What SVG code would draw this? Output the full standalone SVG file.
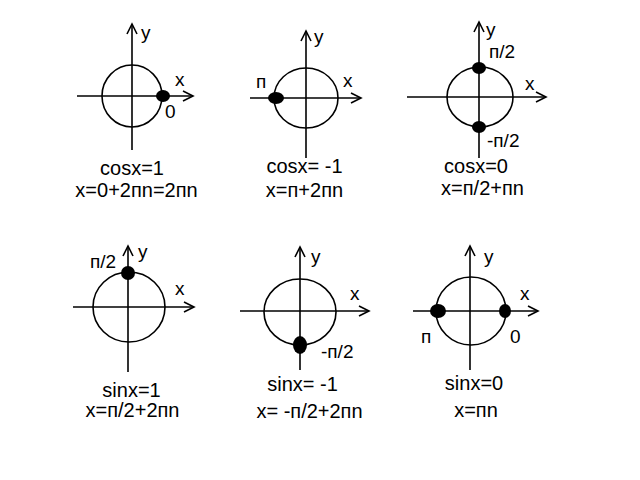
<svg xmlns="http://www.w3.org/2000/svg" width="640" height="480" viewBox="0 0 640 480">
<style>
.ax{stroke:#000;stroke-width:1.6;fill:none}
.c{stroke:#000;stroke-width:1.6;fill:none}
.d{fill:#000}
text{font-family:"Liberation Sans",Arial,sans-serif;font-size:19px;fill:#000}
.m{text-anchor:middle;font-size:20px}
</style>
<defs>
<marker id="ar" markerUnits="userSpaceOnUse" markerWidth="14" markerHeight="14" refX="11" refY="6" orient="auto" viewBox="0 0 14 12">
<path d="M1,1 L11,6 L1,11" fill="none" stroke="#000" stroke-width="1.6"/>
</marker>
</defs>
<rect width="640" height="480" fill="#fff"/>
<g id="p1">
<line class="ax" x1="132" y1="150" x2="132" y2="24" marker-end="url(#ar)"/>
<line class="ax" x1="77" y1="96" x2="193" y2="96" marker-end="url(#ar)"/>
<ellipse class="c" cx="132" cy="96" rx="30" ry="31"/>
<ellipse class="d" cx="163" cy="96" rx="7" ry="6"/>
<text x="141" y="39">y</text>
<text x="175" y="86">x</text>
<text x="165" y="118">0</text>
<text class="m" x="132" y="175">cosx=1</text>
<text class="m" x="136.5" y="197">x=0+2пn=2пn</text>
</g>
<g id="p2">
<line class="ax" x1="306" y1="158" x2="306" y2="31" marker-end="url(#ar)"/>
<line class="ax" x1="250" y1="98" x2="361" y2="98" marker-end="url(#ar)"/>
<ellipse class="c" cx="306" cy="98" rx="32" ry="30"/>
<ellipse class="d" cx="276" cy="98" rx="8" ry="6"/>
<text x="314" y="43">y</text>
<text x="343" y="87">x</text>
<text x="256" y="88">п</text>
<text class="m" x="304.5" y="173">cosx= -1</text>
<text class="m" x="304.5" y="197">x=п+2пn</text>
</g>
<g id="p3">
<line class="ax" x1="479" y1="158" x2="479" y2="22" marker-end="url(#ar)"/>
<line class="ax" x1="407" y1="97" x2="546" y2="97" marker-end="url(#ar)"/>
<ellipse class="c" cx="480" cy="97" rx="33" ry="30"/>
<ellipse class="d" cx="479" cy="68" rx="7" ry="6"/>
<ellipse class="d" cx="479" cy="127" rx="7" ry="6"/>
<text x="486" y="36">y</text>
<text x="489" y="58">п/2</text>
<text x="525" y="90">x</text>
<text x="487" y="147">-п/2</text>
<text class="m" x="476" y="173">cosx=0</text>
<text class="m" x="482.5" y="195">x=п/2+пn</text>
</g>
<g id="p4">
<line class="ax" x1="128" y1="372" x2="128" y2="246" marker-end="url(#ar)"/>
<line class="ax" x1="73" y1="307" x2="194" y2="307" marker-end="url(#ar)"/>
<ellipse class="c" cx="129" cy="307" rx="36" ry="35"/>
<ellipse class="d" cx="128" cy="273" rx="7" ry="7"/>
<text x="138" y="258">y</text>
<text x="90" y="268">п/2</text>
<text x="175" y="295">x</text>
<text class="m" x="131.5" y="397">sinx=1</text>
<text class="m" x="132.5" y="417">x=п/2+2пn</text>
</g>
<g id="p5">
<line class="ax" x1="300" y1="370" x2="300" y2="247" marker-end="url(#ar)"/>
<line class="ax" x1="240" y1="311" x2="369" y2="311" marker-end="url(#ar)"/>
<ellipse class="c" cx="300" cy="312" rx="36" ry="33"/>
<ellipse class="d" cx="300" cy="345" rx="7" ry="9"/>
<text x="311" y="263">y</text>
<text x="350" y="300">x</text>
<text x="321" y="358">-п/2</text>
<text class="m" x="302.5" y="391">sinx= -1</text>
<text class="m" x="309.5" y="418">x= -п/2+2пn</text>
</g>
<g id="p6">
<line class="ax" x1="470" y1="370" x2="470" y2="246" marker-end="url(#ar)"/>
<line class="ax" x1="413" y1="311" x2="538" y2="311" marker-end="url(#ar)"/>
<ellipse class="c" cx="471" cy="311" rx="35" ry="34"/>
<ellipse class="d" cx="438" cy="311" rx="8" ry="7"/>
<ellipse class="d" cx="505" cy="311" rx="6" ry="7"/>
<text x="484" y="263">y</text>
<text x="520" y="300">x</text>
<text x="421" y="343">п</text>
<text x="510" y="343">0</text>
<text class="m" x="474" y="390">sinx=0</text>
<text class="m" x="476" y="417">x=пn</text>
</g>
</svg>
